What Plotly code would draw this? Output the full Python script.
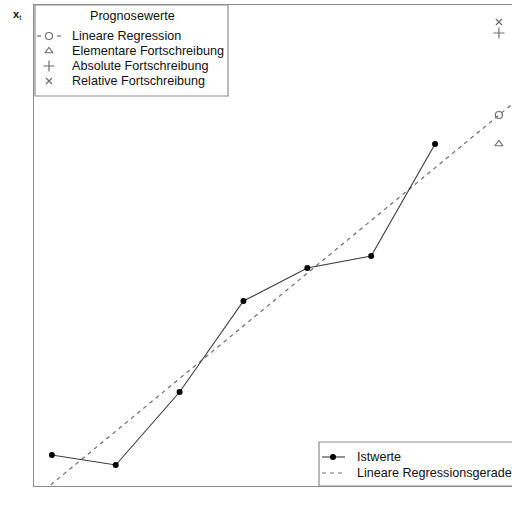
import numpy as np
import plotly.graph_objects as go

# ---- data ----
t_ist = [1, 2, 3, 4, 5, 6, 7]
istwerte = [1019, 1009, 1082, 1173, 1206, 1218, 1330]
t_prog = [8, 8, 8, 8]
prog_labels = ["Lineare Regression", "Elementare Fortschreibung",
               "Absolute Fortschreibung", "Relative Fortschreibung"]
prog_values = [1359, 1330, 1441, 1452]
prog_symbols = ["circle-open", "triangle-up-open", "cross-thin-open", "x-thin-open"]
prog_sizes = [7, 7, 8, 6]
legend2_labels = ["Istwerte", "Lineare Regressionsgerade"]

FONT = "Arial, Liberation Sans, Helvetica, sans-serif"
GREY = "#6e6e6e"
BORDER = "#8c8c8c"
FS = 12.6

slope, intercept = np.polyfit(t_ist, istwerte, 1)
t_line = [0.5, 8.5]
y_line = [intercept + slope * t for t in t_line]

fig = go.Figure()

# regression line
fig.add_trace(go.Scatter(x=t_line, y=y_line, mode="lines",
                         line=dict(color=GREY, width=1.2, dash="4px,4px"),
                         hoverinfo="skip"))
# actual values
fig.add_trace(go.Scatter(x=t_ist, y=istwerte, mode="lines+markers",
                         line=dict(color="#3a3a3a", width=1.1),
                         marker=dict(color="black", size=6),
                         hoverinfo="skip"))
# forecasts
for tv, v, s, sz in zip(t_prog, prog_values, prog_symbols, prog_sizes):
    fig.add_trace(go.Scatter(x=[tv], y=[v], mode="markers",
                             marker=dict(symbol=s, size=sz, color=GREY,
                                         line=dict(color=GREY, width=1.2)),
                             hoverinfo="skip"))

# ---- legend decorations on a pixel overlay axis ----
def px_trace(xs, ys, **kw):
    fig.add_trace(go.Scatter(x=xs, y=ys, xaxis="x2", yaxis="y2",
                             hoverinfo="skip", cliponaxis=False, **kw))

leg_rows = [36, 51, 66, 81]
sym_x = 49
px_trace([37, 41], [leg_rows[0]] * 2, mode="lines", line=dict(color=GREY, width=1.2))
px_trace([57, 61], [leg_rows[0]] * 2, mode="lines", line=dict(color=GREY, width=1.2))
for r, s, sz in zip(leg_rows, prog_symbols, prog_sizes):
    px_trace([sym_x], [r], mode="markers",
             marker=dict(symbol=s, size=sz, color=GREY, line=dict(color=GREY, width=1.2)))

# bottom legend symbols
px_trace([322, 345], [457, 457], mode="lines", line=dict(color="#3a3a3a", width=1.1))
px_trace([333], [457], mode="markers", marker=dict(color="black", size=6))
px_trace([322, 345], [473, 473], mode="lines",
         line=dict(color=GREY, width=1.2, dash="4px,4px"))

def px_ann(text, x, y, anchor="left", size=FS):
    return dict(text=text, x=(x - 34) / 478.0, y=(486 - y) / 481.0,
                xref="paper", yref="paper", xanchor=anchor, yanchor="middle",
                showarrow=False, font=dict(family=FONT, size=size, color="#111"))

annotations = [px_ann("Prognosewerte", 132, 16, anchor="center"),
               px_ann("<b>x</b><sub>t</sub>", 11, 15, size=11)]
for r, lab in zip(leg_rows, prog_labels):
    annotations.append(px_ann(lab, 70, r))
for r, lab in zip([457, 473], legend2_labels):
    annotations.append(px_ann(lab, 355, r))

shapes = [
    dict(type="rect", xref="x2", yref="y2", x0=35, x1=228, y0=5, y1=96,
         line=dict(color=BORDER, width=1.2), fillcolor="rgba(0,0,0,0)", layer="above"),
    dict(type="rect", xref="x2", yref="y2", x0=319, x1=530, y0=442, y1=486,
         line=dict(color=BORDER, width=1.2), fillcolor="rgba(0,0,0,0)", layer="above"),
]

fig.update_layout(
    width=512, height=515,
    margin=dict(l=34, r=0, t=5, b=29),
    paper_bgcolor="white", plot_bgcolor="white",
    showlegend=False, hovermode=False,
    xaxis=dict(range=[0.72, 8.205], showgrid=False, zeroline=False,
               showticklabels=False, ticks="", showline=True, mirror=True,
               linecolor=BORDER, linewidth=1.2),
    yaxis=dict(range=[988, 1469], showgrid=False, zeroline=False,
               showticklabels=False, ticks="", showline=True, mirror=False,
               linecolor=BORDER, linewidth=1.2),
    xaxis2=dict(range=[34, 512], overlaying="x", visible=False),
    yaxis2=dict(range=[486, 5], overlaying="y", visible=False),
    annotations=annotations, shapes=shapes,
)

fig.write_html("out.html")
